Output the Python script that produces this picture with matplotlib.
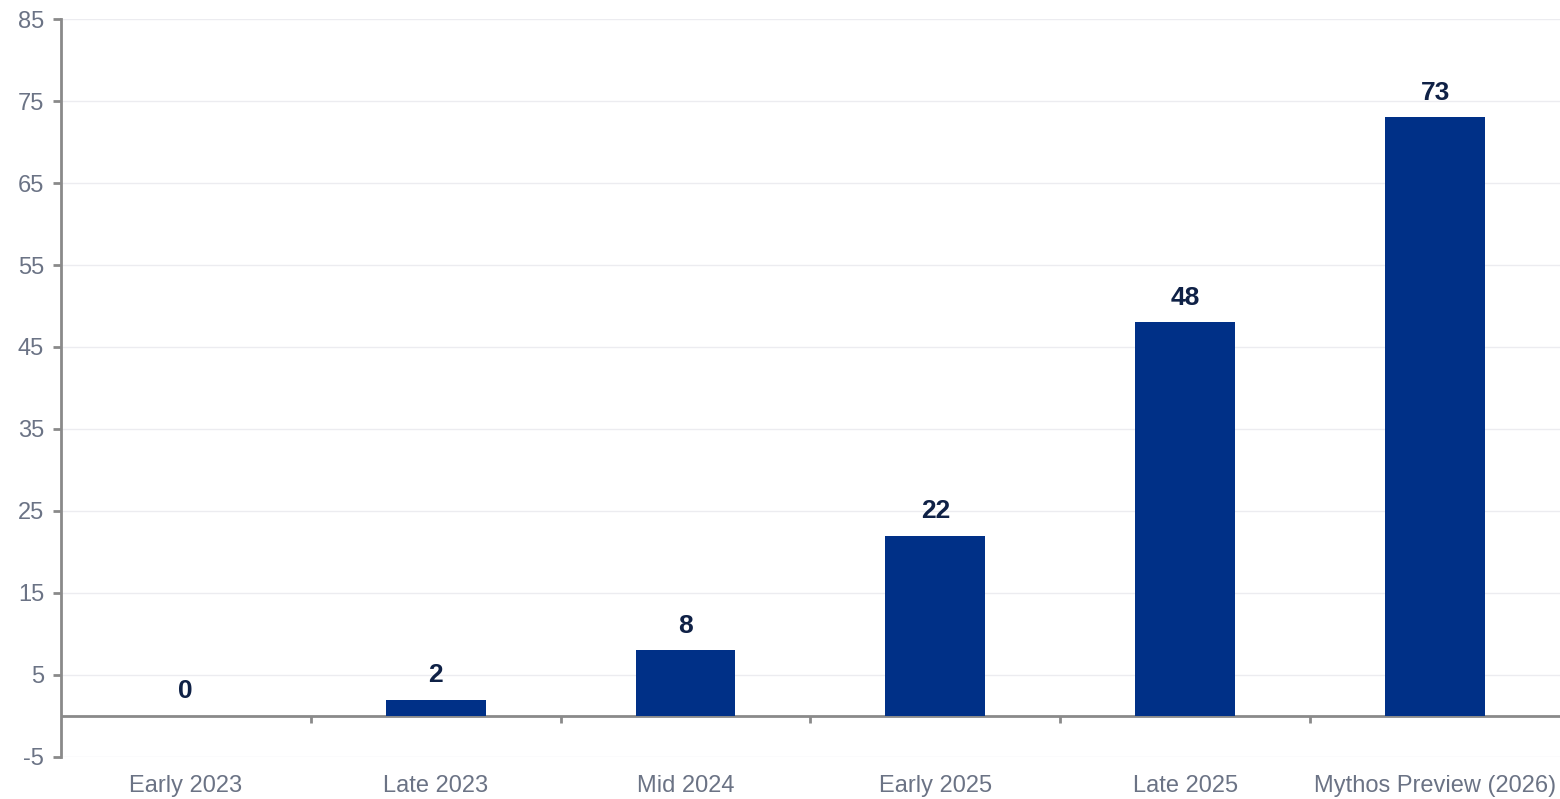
import matplotlib.pyplot as plt
import numpy as np

plt.rcParams['font.family'] = ['Liberation Sans', 'DejaVu Sans']
plt.rcParams['axes.unicode_minus'] = False

# Data
categories = ['Early 2023', 'Late 2023', 'Mid 2024', 'Early 2025', 'Late 2025', 'Mythos Preview (2026)']
values = [0, 2, 8, 22, 48, 73]
yticks = [-5, 5, 15, 25, 35, 45, 55, 65, 75, 85]

bar_color = '#003087'
axis_color = '#8a8a8a'
label_color = '#6b7385'
value_color = '#0f2146'

fig = plt.figure(figsize=(15.6, 7.99), dpi=100)
ax = fig.add_axes([0.039, 0.0526, 0.961, 0.9236])

x = np.arange(len(categories))
ax.bar(x, values, width=0.4, color=bar_color, zorder=3)

for xi, v in zip(x, values):
    ax.annotate(str(v), (xi, v), xytext=(0, 9), textcoords='offset points',
                ha='center', va='bottom', fontsize=19, fontweight='bold',
                color=value_color, zorder=4)

ax.set_xlim(-0.5, len(categories) - 0.5)
ax.set_ylim(yticks[0], yticks[-1])
ax.set_yticks(yticks)
ax.grid(axis='y', color='#ececf0', linewidth=1, zorder=0)

# zero line with category-boundary ticks
ax.axhline(0, color=axis_color, linewidth=2, zorder=2)
bounds = x[1:] - 0.5
ax.vlines(bounds, -0.85, 0, color=axis_color, linewidth=2, zorder=2)

ax.set_xticks(x)
ax.set_xticklabels(categories)
ax.tick_params(axis='x', length=0, pad=13, labelsize=17, labelcolor=label_color)
ax.tick_params(axis='y', length=6, width=2, color=axis_color, pad=6,
               labelsize=17, labelcolor=label_color)

for s in ['top', 'right', 'bottom']:
    ax.spines[s].set_visible(False)
ax.spines['left'].set_color(axis_color)
ax.spines['left'].set_linewidth(2)

fig.savefig('out.png', dpi=100)
